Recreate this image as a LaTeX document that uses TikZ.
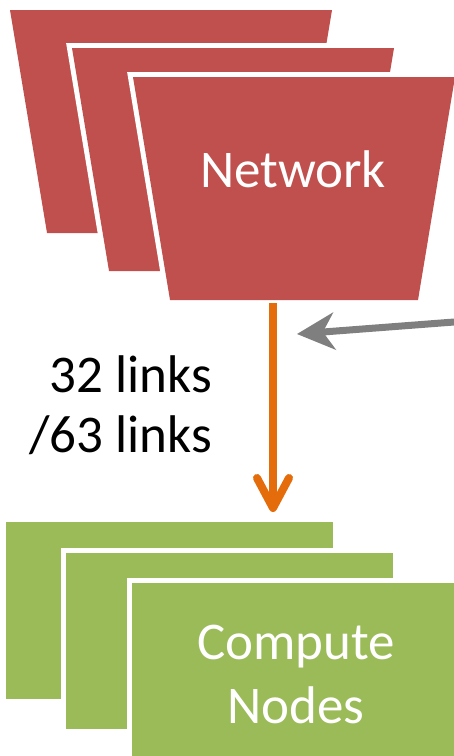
\documentclass[tikz,border=0pt]{standalone}
\usepackage{fontspec}
\setmainfont{Carlito}
\usetikzlibrary{arrows.meta}
\definecolor{netred}{HTML}{C0504D}
\definecolor{nodegreen}{HTML}{9BBB59}
\definecolor{linkorange}{HTML}{E46C0A}
\definecolor{pointgray}{HTML}{7F7F7F}
\tikzset{
  layeredge/.style={draw=white, line width=10pt, line join=miter},
  bigtext/.style={font=\fontsize{53}{64}\selectfont, inner sep=0pt},
  linkarrow/.style={draw=linkorange, line width=8pt,
    -{Straight Barb[length=30pt, width=32pt, round]}},
  pointarrow/.style={draw=pointgray, line width=7pt,
    -{Stealth[length=38pt, width=38pt, inset=12pt, line width=0pt]}},
}
\begin{document}
\begin{tikzpicture}[x=1pt, y=-1pt]
\useasboundingbox (0,0) rectangle (454,756);

% stacked network layers (inverted trapezoids), back to front
\foreach \ox/\oy in {10/10, 72/48, 133/77} {
  \path[layeredge] (\ox,\oy) -- ++(322,0) -- ++(-37,223) -- ++(-248,0) -- cycle;
  \fill[netred] (\ox,\oy) -- ++(322,0) -- ++(-37,223) -- ++(-248,0) -- cycle;
}
\node[bigtext, text=white, anchor=base] (net) at (293,187) {Network};

% stacked compute node cards, back to front
\foreach \ox/\oy/\w/\h in {6/522/327/177, 66/553/327/176, 132/583/340/200} {
  \path[layeredge] (\ox,\oy) rectangle ++(\w,\h);
  \fill[nodegreen] (\ox,\oy) rectangle ++(\w,\h);
}
% multi-line nodes: base anchor sits on the last line
\node[bigtext, text=white, align=center, anchor=base] (comp) at (296,723)
  {Compute\\Nodes};

% link count label
\node[bigtext, font=\fontsize{53}{60}\selectfont, align=right, anchor=base east]
  (links) at (212,452) {32 links\\/63 links};

% connectors
\coordinate (netout) at (273,303);
\coordinate (compin) at (273,512);
\draw[linkarrow] (netout) -- (compin);

\coordinate (pfrom) at (458,321.7);
\coordinate (pto) at (297,334);
\draw[pointarrow] (pfrom) -- (pto);
\end{tikzpicture}
\end{document}
